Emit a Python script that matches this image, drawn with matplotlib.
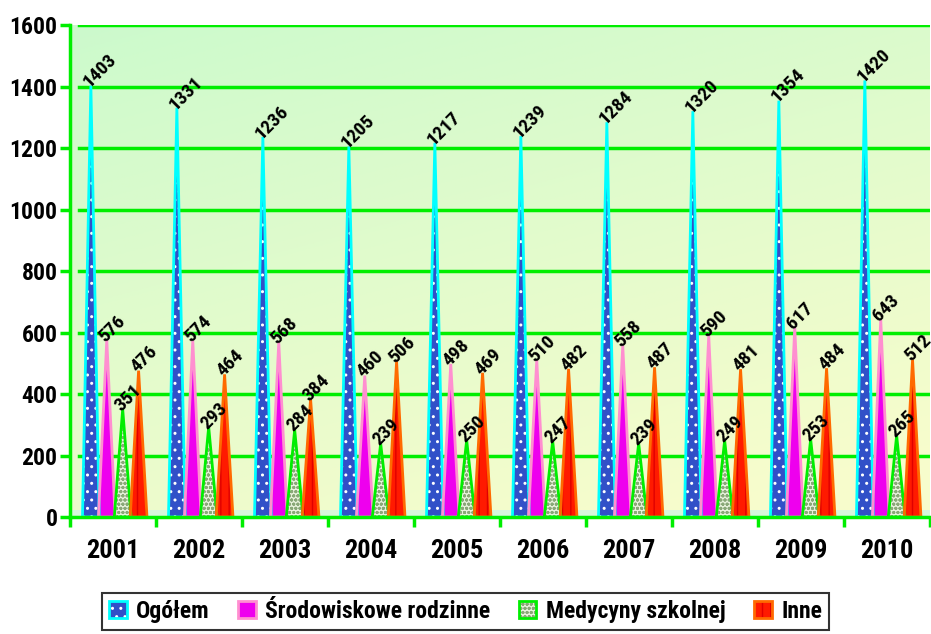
import matplotlib
matplotlib.use("Agg")
import matplotlib.pyplot as plt
import numpy as np
from matplotlib import font_manager
from matplotlib.patches import Patch
from matplotlib.legend_handler import HandlerTuple

# pick a narrow bold sans if one is installed
names = {f.name for f in font_manager.fontManager.ttflist}
family = 'Liberation Sans'
for cand in ['Liberation Sans Narrow', 'Arial Narrow', 'Roboto Condensed', 'Archivo Narrow',
             'PT Sans Narrow', 'Pragati Narrow']:
    if cand in names:
        family = cand
        break
plt.rcParams['font.family'] = [family, 'DejaVu Sans']
plt.rcParams['font.weight'] = 'bold'
plt.rcParams['hatch.linewidth'] = 1.0

years = ['2001', '2002', '2003', '2004', '2005', '2006', '2007', '2008', '2009', '2010']
ogolem = [1403, 1331, 1236, 1205, 1217, 1239, 1284, 1320, 1354, 1420]
srodowiskowe = [576, 574, 568, 460, 498, 510, 558, 590, 617, 643]
medycyny = [351, 293, 284, 239, 250, 247, 239, 249, 253, 265]
inne = [476, 464, 384, 506, 469, 482, 487, 481, 484, 512]

# name, values, face, edge, hatch, hatch colour
series = [
    ('Ogółem', ogolem, '#3150c8', '#00ffff', '..', 'white'),
    ('Środowiskowe rodzinne', srodowiskowe, '#ee00ee', '#ff8fd0', None, None),
    ('Medycyny szkolnej', medycyny, '#e8f2dc', '#00ee00', 'oooo', '#8aa878'),
    ('Inne', inne, '#ff1a00', '#ff6a00', '||', '#e00000'),
]

fig = plt.figure(figsize=(9.31, 6.34), dpi=100)
ax = fig.add_axes([0.0752, 0.1845, 0.9237, 0.776])

# gradient background: green at the top, light yellow towards bottom right
gx, gy = np.meshgrid(np.linspace(0, 1, 200), np.linspace(0, 1, 200))
t = np.clip(0.75 * gy + 0.35 * gx, 0, 1)
c1 = np.array([0.80, 0.98, 0.80])
c2 = np.array([0.97, 0.99, 0.80])
img = c1[None, None, :] * (1 - t[..., None]) + c2[None, None, :] * t[..., None]
ax.imshow(img, extent=[0, 1, 0, 1], transform=ax.transAxes, aspect='auto', zorder=0, origin='upper')

ax.set_xlim(-0.5, 9.5)
ax.set_ylim(0, 1600)

# floor
ax.axhspan(0, 22, color='#d6f7dc', zorder=0.5, lw=0)

for g in range(200, 1601, 200):
    ax.plot([-0.39, 9.5], [g, g], color='#00ee00', lw=2.5, zorder=1)

x = np.arange(len(years))
w = 0.195
offsets = (np.arange(4) - 1.5) * 0.185 + 0.02

for k, (name, vals, face, edge, hatch, hcol) in enumerate(series):
    for i, v in enumerate(vals):
        c = x[i] + offsets[k]
        xs = [c - w / 2, c, c + w / 2]
        ys = [0, v, 0]
        ax.fill(xs, ys, facecolor=face, edgecolor=hcol if hatch else face,
                hatch=hatch, lw=0, zorder=2)
        ax.fill(xs, ys, facecolor='none', edgecolor=edge, lw=2, zorder=3)
        ax.annotate(str(v), (c, v), xytext=(-1, -2), textcoords='offset points',
                    rotation=45, rotation_mode='anchor', ha='left', va='baseline',
                    fontsize=14, fontweight='bold', color='black', zorder=5)

for s in ['top', 'right']:
    ax.spines[s].set_visible(False)
for s in ['left', 'bottom']:
    ax.spines[s].set_color('#00ee00')
    ax.spines[s].set_linewidth(2.5)
    ax.spines[s].set_zorder(4)

ax.set_yticks(range(0, 1601, 200))
ax.tick_params(axis='y', colors='#00ee00', length=7, width=2.5, labelsize=17, labelcolor='black', pad=2)
ax.set_xticks(np.arange(-0.5, 10, 1))
ax.set_xticklabels([])
ax.tick_params(axis='x', colors='#00ee00', length=7, width=2.5)
for lab in ax.get_yticklabels():
    lab.set_fontweight('bold')

for i, yr in enumerate(years):
    ax.text(x[i], -0.07, yr, transform=ax.get_xaxis_transform(), ha='center', va='center',
            fontsize=19, fontweight='bold')

handles = []
for name, vals, face, edge, hatch, hcol in series:
    inner = Patch(facecolor=face, edgecolor=hcol if hatch else face, hatch=hatch, lw=0)
    outer = Patch(facecolor='none', edgecolor=edge, lw=2)
    handles.append((inner, outer))
leg = fig.legend(handles, [s[0] for s in series], loc='center', bbox_to_anchor=(0.5, 0.036),
                 ncol=4, frameon=True, fancybox=False, edgecolor='black',
                 handler_map={tuple: HandlerTuple(ndivide=1, pad=0)},
                 handlelength=0.75, handleheight=0.75, handletextpad=0.4, columnspacing=1.2,
                 borderpad=0.3, prop={'weight': 'bold', 'size': 17})
leg.get_frame().set_linewidth(1.5)

fig.savefig('out.png', dpi=100)
